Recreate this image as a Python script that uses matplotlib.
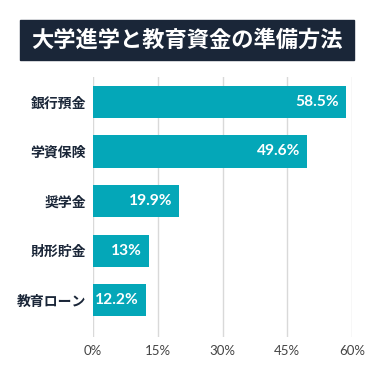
import matplotlib
matplotlib.use("Agg")
import matplotlib.pyplot as plt

plt.rcParams['font.family'] = ['Lato', 'Noto Sans CJK JP', 'DejaVu Sans']

# データ
categories = ["銀行預金", "学資保険", "奨学金", "財形貯金", "教育ローン"]
values = [58.5, 49.6, 19.9, 13, 12.2]
value_labels = ["58.5%", "49.6%", "19.9%", "13%", "12.2%"]
xticks = [0, 15, 30, 45, 60]
xtick_labels = ["0%", "15%", "30%", "45%", "60%"]
title = "大学進学と教育資金の準備方法"

bar_color = "#04a7b8"
navy = "#1a2638"

fig = plt.figure(figsize=(3.75, 3.75), dpi=100)
W = H = 375.0

# タイトルの帯
fig.patches.append(plt.Rectangle((20 / W, 1 - 60 / H), 334 / W, 40 / H,
                                 transform=fig.transFigure, color=navy, zorder=0))
fig.text(187 / W, 1 - 40.5 / H, title, ha="center", va="center", color="white",
         fontsize=16, fontweight="bold", family=['Noto Sans CJK JP'])

ax = fig.add_axes([93 / W, 1 - 337 / H, 259 / W, 260 / H])
pos = list(range(len(categories)))
ax.barh(pos, values, height=0.65, color=bar_color, zorder=2)

for p, v, lab in zip(pos, values, value_labels):
    ax.annotate(lab, (v, p), xytext=(-5, 0), textcoords="offset points",
                ha="right", va="center", color="white", fontsize=11.2,
                fontweight="bold", zorder=3)

ax.set_xlim(0, 60)
ax.set_ylim(4.74, -0.5)
ax.set_xticks(xticks)
ax.set_xticklabels(xtick_labels, fontsize=9.5, color="#444444")
ax.set_yticks(pos)
ax.set_yticklabels(categories, fontsize=10, fontweight="bold", color=navy,
                   family=['Noto Sans CJK JP'])
ax.tick_params(axis="both", length=0)
ax.tick_params(axis="y", pad=5)
ax.tick_params(axis="x", pad=6)
ax.grid(axis="x", color="#d9d9d9", linewidth=1, zorder=1)
for s in ax.spines.values():
    s.set_visible(False)

fig.savefig("out.png", dpi=100)
